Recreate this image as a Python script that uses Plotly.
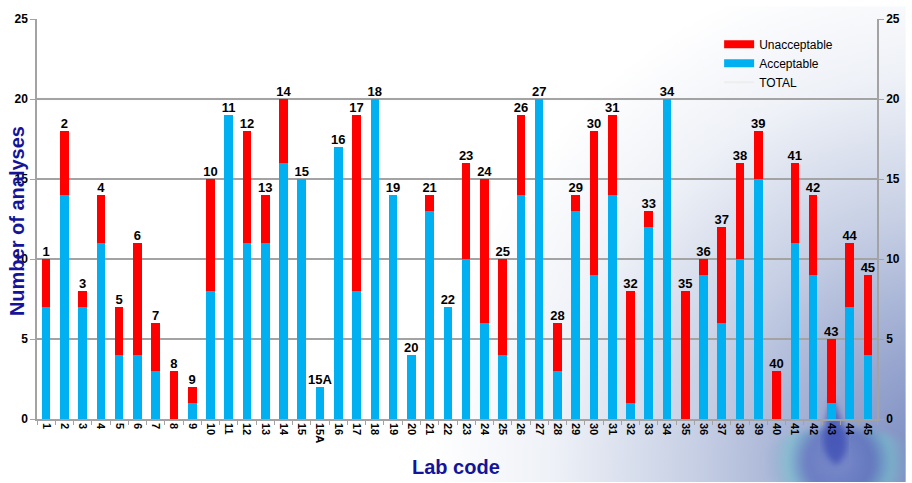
import base64
import plotly.graph_objects as go

# Lab codes and counts of acceptable / unacceptable analyses per lab
lab_codes = ["1", "2", "3", "4", "5", "6", "7", "8", "9", "10", "11", "12", "13", "14", "15",
             "15A", "16", "17", "18", "19", "20", "21", "22", "23", "24", "25", "26", "27", "28",
             "29", "30", "31", "32", "33", "34", "35", "36", "37", "38", "39", "40", "41", "42",
             "43", "44", "45"]
acceptable = [7, 14, 7, 11, 4, 4, 3, 0, 1, 8, 19, 11, 11, 16, 15,
              2, 17, 8, 20, 14, 4, 13, 7, 10, 6, 4, 14, 20, 3,
              13, 9, 14, 1, 12, 20, 0, 9, 6, 10, 15, 0, 11, 9,
              1, 7, 4]
unacceptable = [3, 4, 1, 3, 3, 7, 3, 3, 1, 7, 0, 7, 3, 4, 0,
                0, 0, 11, 0, 0, 0, 1, 0, 6, 9, 6, 5, 0, 3,
                1, 9, 5, 7, 1, 0, 8, 1, 6, 6, 3, 3, 5, 5,
                4, 4, 5]
total = [a + u for a, u in zip(acceptable, unacceptable)]
y_ticks = [0, 5, 10, 15, 20, 25]

RED = "#ff0000"
BLUE = "#00b0f0"
NAVY = "#14149b"
GRID = "#a3a3a3"
FONT = "Liberation Sans, Arial, sans-serif"

W, H = 912, 483
ML, MR, MT, MB = 37, 29, 13, 64
PW, PH = W - ML - MR, H - MT - MB

# Soft bluish backdrop in the lower right corner with a water-drop emblem
svg = f"""<svg xmlns='http://www.w3.org/2000/svg' width='{W}' height='{H}' viewBox='0 0 {W} {H}'>
<defs>
<radialGradient id='g' cx='960' cy='470' r='620' gradientUnits='userSpaceOnUse'>
<stop offset='0' stop-color='#7183bb'/>
<stop offset='0.2' stop-color='#98a6cf'/>
<stop offset='0.42' stop-color='#c6cfe4'/>
<stop offset='0.65' stop-color='#eef1f7'/>
<stop offset='0.85' stop-color='#ffffff'/>
</radialGradient>
<radialGradient id='d' cx='845' cy='462' r='75' gradientUnits='userSpaceOnUse'>
<stop offset='0' stop-color='#6f80c8' stop-opacity='0.7'/>
<stop offset='0.45' stop-color='#4a60b8' stop-opacity='0.6'/>
<stop offset='0.7' stop-color='#6fc6cc' stop-opacity='0.55'/>
<stop offset='1' stop-color='#8c9cc8' stop-opacity='0'/>
</radialGradient>
<filter id='b'><feGaussianBlur stdDeviation='3'/></filter>
</defs>
<rect width='{W}' height='{H}' fill='url(#g)'/>
<ellipse cx='845' cy='462' rx='80' ry='34' fill='url(#d)' filter='url(#b)'/>
<path d='M 838 398 C 828 430 822 452 842 466 C 860 452 852 430 838 398 Z' fill='#3a4cb4' opacity='0.75' filter='url(#b)'/>
</svg>"""
bg_uri = "data:image/svg+xml;base64," + base64.b64encode(svg.encode()).decode()

fig = go.Figure()

fig.add_trace(go.Bar(x=lab_codes, y=acceptable, name="Acceptable",
                     marker=dict(color=BLUE, line=dict(width=0)), showlegend=False))
fig.add_trace(go.Bar(x=lab_codes, y=unacceptable, name="Unacceptable",
                     marker=dict(color=RED, line=dict(width=0)), showlegend=False))

# Lab code printed on top of each stacked bar
fig.add_trace(go.Scatter(x=lab_codes, y=total, mode="text", text=lab_codes,
                         textposition="top center", name="TOTAL", showlegend=False,
                         textfont=dict(family=FONT, size=13, color="black", weight="bold"),
                         cliponaxis=False))

# Legend entries drawn as wide swatches
for name, color, width, rank in [("Unacceptable", RED, 8, 1),
                                 ("Acceptable", BLUE, 8, 2),
                                 ("TOTAL", "#eeeeee", 2, 3)]:
    fig.add_trace(go.Scatter(x=[None], y=[None], mode="lines", name=name,
                             line=dict(color=color, width=width), legendrank=rank,
                             yaxis="y2"))

fig.update_layout(
    width=W, height=H,
    margin=dict(l=ML, r=MR, t=MT, b=MB),
    barmode="stack", bargap=0.53,
    paper_bgcolor="white", plot_bgcolor="rgba(0,0,0,0)",
    font=dict(family=FONT, color="black"),
    showlegend=True,
    legend=dict(x=(724 - ML) / PW, y=1 - (24 - MT) / PH, xanchor="left", yanchor="top",
                bgcolor="rgba(0,0,0,0)", borderwidth=0, itemwidth=30,
                traceorder="normal", tracegroupgap=0,
                font=dict(family=FONT, size=12, color="black")),
    xaxis=dict(type="category", categoryorder="array", categoryarray=lab_codes,
               range=[-0.5, len(lab_codes) - 0.5],
               showgrid=False, showline=True, linecolor=GRID, linewidth=1.5,
               ticks="outside", tickson="boundaries", ticklen=4, tickcolor=GRID,
               tickangle=90, tickfont=dict(family=FONT, size=11, color="black", weight="bold"),
               zeroline=False),
    yaxis=dict(range=[0, 25], tickvals=y_ticks, showgrid=True, gridcolor=GRID, gridwidth=1.5,
               showline=True, linecolor=GRID, linewidth=1.5, ticks="outside", ticklen=5,
               tickcolor=GRID, zeroline=False,
               tickfont=dict(family=FONT, size=12, color="black", weight="bold")),
    yaxis2=dict(range=[0, 25], tickvals=y_ticks, overlaying="y", side="right",
                showgrid=False, showline=True, linecolor=GRID, linewidth=1.5,
                ticks="outside", ticklen=5, tickcolor=GRID, zeroline=False,
                tickfont=dict(family=FONT, size=12, color="black", weight="bold")),
    images=[dict(source=bg_uri, xref="paper", yref="paper",
                 x=-ML / PW, y=1 + MT / PH, sizex=W / PW, sizey=H / PH,
                 xanchor="left", yanchor="top", sizing="stretch", layer="below")],
    shapes=[dict(type="line", xref="paper", yref="y", x0=0, x1=1, y0=20, y1=20,
                 line=dict(color="#f2f2f2", width=2.5), layer="below")],
    annotations=[
        dict(text="Number of analyses", textangle=-90, xref="paper", yref="paper",
             x=(17 - ML) / PW, y=1 - (218 - MT) / PH, xanchor="center", yanchor="middle",
             showarrow=False, font=dict(family=FONT, size=20, color=NAVY, weight="bold")),
        dict(text="Lab code", xref="paper", yref="paper",
             x=(459 - ML) / PW, y=-(468 - MT - PH) / PH, xanchor="center", yanchor="middle",
             showarrow=False, font=dict(family=FONT, size=20, color=NAVY, weight="bold")),
    ],
)

fig.write_html("out.html")
